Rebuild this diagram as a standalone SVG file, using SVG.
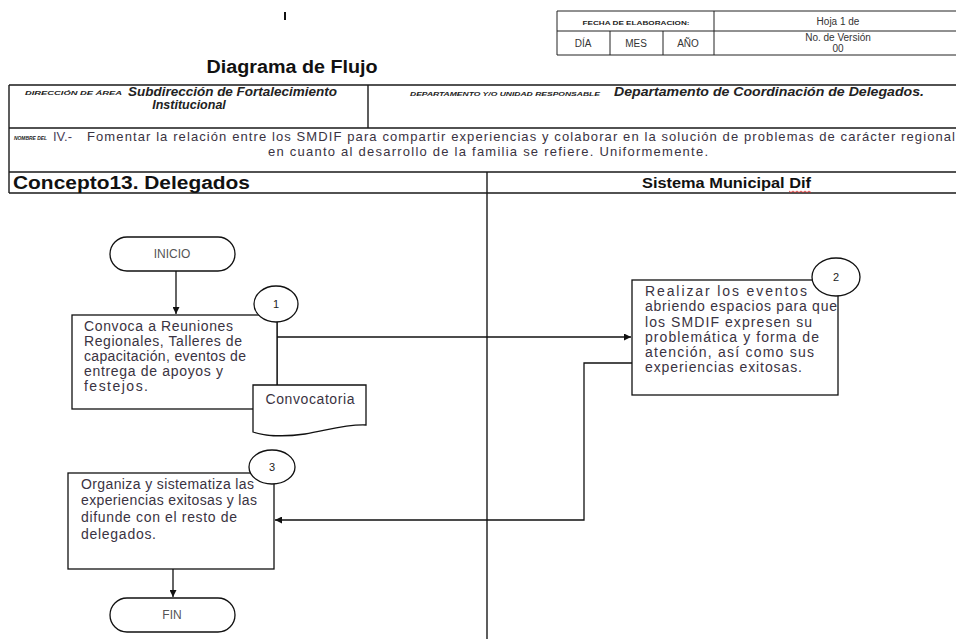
<svg xmlns="http://www.w3.org/2000/svg" width="956" height="639" viewBox="0 0 956 639">
<style>
text{font-family:"Liberation Sans",Arial,sans-serif;}
.hl{fill:none;stroke:#1a1a1a;stroke-width:1.4;}
.tl{fill:none;stroke:#222;stroke-width:1;}
.nd{fill:#fff;stroke:#111;stroke-width:1.3;}
.cn{fill:none;stroke:#111;stroke-width:1.3;}
.bx{font-size:14px;fill:#3a3342;}
.tiny{font-size:5.5px;font-weight:bold;font-style:italic;fill:#222;}
.sm{font-size:10px;fill:#333;}
.term{font-size:12px;fill:#555;text-anchor:middle;}
.num{font-size:11px;fill:#222;text-anchor:middle;}
</style>
<defs>
<marker id="ah" viewBox="0 0 10 10" refX="10" refY="5" markerWidth="7" markerHeight="7" markerUnits="userSpaceOnUse" orient="auto">
<path d="M0,0 L10,5 L0,10 Z" fill="#111"/>
</marker>
</defs>
<rect width="956" height="639" fill="#fff"/>

<g id="header">
<rect x="284" y="12" width="2" height="8" fill="#111"/>
<path class="tl" d="M557,11 H960 M557,31 H960 M557,55 H960 M557,11 V55 M714,11 V55 M610,31 V55 M663,31 V55"/>
<text class="tiny" x="636" y="25" text-anchor="middle" textLength="107" lengthAdjust="spacingAndGlyphs" style="font-style:normal">FECHA DE ELABORACION:</text>
<text class="sm" x="838" y="25" text-anchor="middle">Hoja 1 de</text>
<text class="sm" x="583" y="47" text-anchor="middle">DÍA</text>
<text class="sm" x="636" y="47" text-anchor="middle">MES</text>
<text class="sm" x="688" y="47" text-anchor="middle">AÑO</text>
<text class="sm" x="838" y="41" text-anchor="middle">No. de Versión</text>
<text class="sm" x="838" y="52" text-anchor="middle">00</text>

<text x="292" y="73" text-anchor="middle" style="font-size:18px;font-weight:bold;fill:#111" textLength="171" lengthAdjust="spacingAndGlyphs">Diagrama de Flujo</text>

<path class="hl" d="M9,85 H960 M9,128 H960 M9,172 H960 M9,193 H960 M9,85 V193 M368,85 V128 M487,172 V639"/>
<text class="tiny" x="25" y="95" textLength="97" lengthAdjust="spacingAndGlyphs">DIRECCIÓN DE ÁREA</text>
<text x="128" y="96" style="font-size:12.5px;font-weight:bold;font-style:italic;fill:#222" textLength="209" lengthAdjust="spacingAndGlyphs">Subdirección de Fortalecimiento</text>
<text x="189" y="109" text-anchor="middle" style="font-size:12.5px;font-weight:bold;font-style:italic;fill:#222">Institucional</text>
<text class="tiny" x="410" y="96" textLength="190" lengthAdjust="spacingAndGlyphs">DEPARTAMENTO Y/O UNIDAD RESPONSABLE</text>
<text x="614" y="96" style="font-size:12.5px;font-weight:bold;font-style:italic;fill:#222" textLength="310" lengthAdjust="spacingAndGlyphs">Departamento de Coordinación de Delegados.</text>

<text class="tiny" x="14" y="140" textLength="33" lengthAdjust="spacingAndGlyphs">NOMBRE DEL</text>
<text x="53" y="141" style="font-size:13px;fill:#4a3f5a">IV.-</text>
<text x="87" y="141" style="font-size:13px;fill:#3a3342" textLength="868" lengthAdjust="spacing">Fomentar la relación entre los SMDIF para compartir experiencias y colaborar en la solución de problemas de carácter regional</text>
<text x="268" y="156" style="font-size:13px;fill:#3a3342" textLength="440" lengthAdjust="spacing">en cuanto al desarrollo de la familia se refiere. Uniformemente.</text>

<text x="13" y="189" style="font-size:18px;font-weight:bold;fill:#111" textLength="237" lengthAdjust="spacingAndGlyphs">Concepto13.  Delegados</text>
<text x="642" y="188" style="font-size:14px;font-weight:bold;fill:#111" textLength="169" lengthAdjust="spacingAndGlyphs">Sistema Municipal Dif</text>
<path d="M789,191 l2,1.5 l2,-1.5 l2,1.5 l2,-1.5 l2,1.5 l2,-1.5 l2,1.5 l2,-1.5 l2,1.5 l2,-1.5 l2,1.5" fill="none" stroke="#d22" stroke-width="0.8"/>
</g>

<g id="connectors">
<line class="cn" x1="176" y1="271" x2="176" y2="314" marker-end="url(#ah)"/>
<line class="cn" x1="277" y1="322" x2="277" y2="385"/>
<line class="cn" x1="277" y1="337" x2="631" y2="337" marker-end="url(#ah)"/>
<polyline class="cn" points="632,363 584,363 584,520 275,520" marker-end="url(#ah)"/>
<line class="cn" x1="173" y1="569" x2="173" y2="597" marker-end="url(#ah)"/>
</g>

<g id="inicio">
<rect class="nd" x="110" y="237" width="125" height="34" rx="17"/>
<text class="term" x="172" y="258">INICIO</text>
</g>

<g id="step1">
<rect class="nd" x="72" y="315" width="205" height="94"/>
<text class="bx" x="84" y="331" textLength="149" lengthAdjust="spacing">Convoca a Reuniones</text>
<text class="bx" x="84" y="346" textLength="158" lengthAdjust="spacing">Regionales, Talleres de</text>
<text class="bx" x="84" y="361" textLength="162" lengthAdjust="spacing">capacitación, eventos de</text>
<text class="bx" x="84" y="376" textLength="139" lengthAdjust="spacing">entrega de apoyos y</text>
<text class="bx" x="84" y="391" textLength="64" lengthAdjust="spacing">festejos.</text>
</g>
<g id="circle1">
<ellipse class="nd" cx="276" cy="304" rx="22" ry="18"/>
<text class="num" x="276" y="308">1</text>
</g>

<g id="convocatoria">
<path class="nd" d="M253,385 H366 V425 C345,424 325,431 305,434 C285,437 265,436 253,432 Z"/>
<text class="bx" x="310" y="404" text-anchor="middle" textLength="89" lengthAdjust="spacing">Convocatoria</text>
</g>

<g id="step2">
<rect class="nd" x="632" y="280" width="206" height="115"/>
<text class="bx" x="645" y="296" textLength="162" lengthAdjust="spacing">Realizar los eventos</text>
<text class="bx" x="645" y="311" textLength="192" lengthAdjust="spacing">abriendo espacios para que</text>
<text class="bx" x="645" y="327" textLength="167" lengthAdjust="spacing">los SMDIF expresen su</text>
<text class="bx" x="645" y="342" textLength="174" lengthAdjust="spacing">problemática y forma de</text>
<text class="bx" x="645" y="357" textLength="169" lengthAdjust="spacing">atención, así como sus</text>
<text class="bx" x="645" y="372" textLength="157" lengthAdjust="spacing">experiencias exitosas.</text>
</g>
<g id="circle2">
<ellipse class="nd" cx="836" cy="277" rx="24" ry="19"/>
<text class="num" x="836" y="281">2</text>
</g>

<g id="step3">
<rect class="nd" x="68" y="473" width="206" height="96"/>
<text class="bx" x="81" y="489" textLength="173" lengthAdjust="spacing">Organiza y sistematiza las</text>
<text class="bx" x="81" y="505" textLength="176" lengthAdjust="spacing">experiencias exitosas y las</text>
<text class="bx" x="81" y="522" textLength="156" lengthAdjust="spacing">difunde con el resto de</text>
<text class="bx" x="81" y="539" textLength="75" lengthAdjust="spacing">delegados.</text>
</g>
<g id="circle3">
<ellipse class="nd" cx="272" cy="467" rx="23" ry="17"/>
<text class="num" x="272" y="471">3</text>
</g>

<g id="fin">
<rect class="nd" x="110" y="598" width="125" height="34" rx="17"/>
<text class="term" x="172" y="619">FIN</text>
</g>
</svg>
